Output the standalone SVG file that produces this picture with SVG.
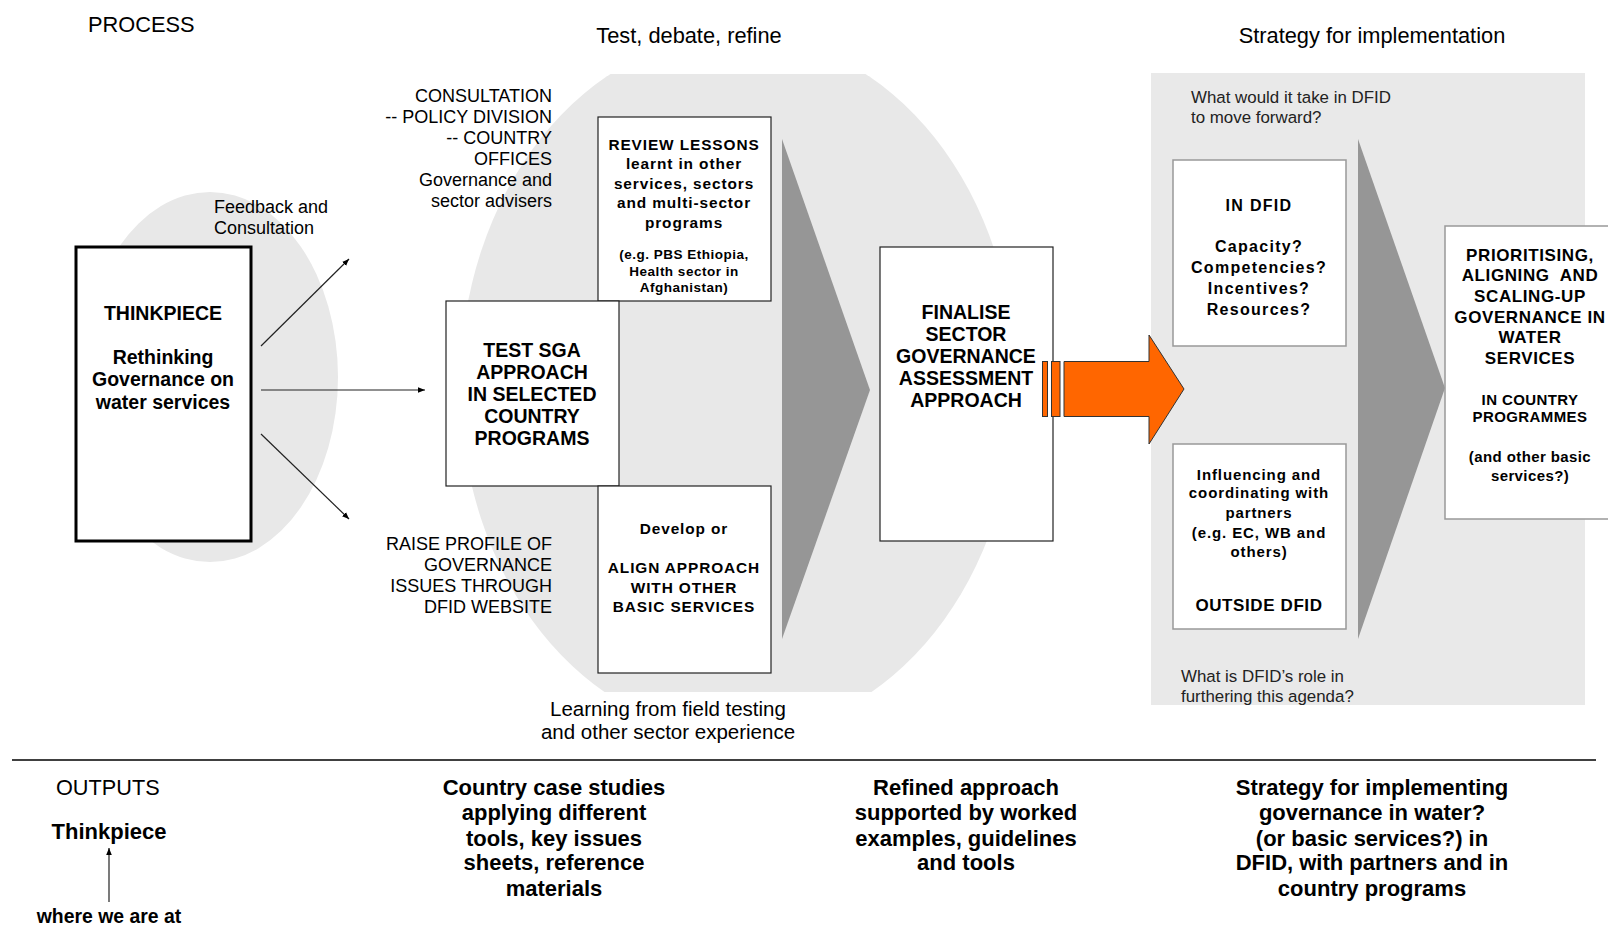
<svg xmlns="http://www.w3.org/2000/svg" width="1608" height="931" viewBox="0 0 1608 931">
<defs>
<style>
text{font-family:"Liberation Sans",Arial,sans-serif;fill:#000;dominant-baseline:central}
.hdr{font-size:21.8px}
.lbl{font-size:18px;text-anchor:end}
.lbs{font-size:18px}
.q{font-size:16.9px;fill:#222}
.bx{fill:#fff;stroke:#222;stroke-width:1.2}
.bxg{fill:#fff;stroke:#999;stroke-width:1.5}
.b19{font-size:19.5px;font-weight:bold;text-anchor:middle}
.b15{font-size:15.4px;font-weight:bold;text-anchor:middle;letter-spacing:0.9px}
.b13{font-size:13.5px;font-weight:bold;text-anchor:middle;letter-spacing:0.5px}
.b16{font-size:16px;font-weight:bold;text-anchor:middle;letter-spacing:1.3px}
.b15r{font-size:15px;font-weight:bold;text-anchor:middle;letter-spacing:0.9px}
.b17{font-size:17px;font-weight:bold;text-anchor:middle;letter-spacing:0.6px}
.b15p{font-size:15px;font-weight:bold;text-anchor:middle;letter-spacing:0.4px}
.out{font-size:22px;font-weight:bold;text-anchor:middle}
.small{font-size:19.4px}
.chev{fill:#969696}
.conn{stroke:#222;stroke-width:1.2;fill:none}
</style>
<marker id="ah" viewBox="0 0 10 10" refX="10" refY="5" markerWidth="7" markerHeight="7" orient="auto" markerUnits="userSpaceOnUse">
<path d="M0,1 L10,5 L0,9 z" fill="#000"/>
</marker>
<clipPath id="midclip"><rect x="0" y="74" width="1608" height="618"/></clipPath>
</defs>
<rect width="1608" height="931" fill="#fff"/>

<!-- backgrounds -->
<g id="backgrounds">
<ellipse cx="210" cy="377" rx="128" ry="185" fill="#e8e8e8"/>
<ellipse cx="738" cy="385" rx="278" ry="350" fill="#e8e8e8" clip-path="url(#midclip)"/>
<rect x="1151" y="73" width="434" height="632" fill="#e9e9e9"/>
</g>

<!-- headings -->
<text class="hdr" x="88" y="24">PROCESS</text>
<text class="hdr" x="689" y="35" text-anchor="middle">Test, debate, refine</text>
<text class="hdr" x="1372" y="35" text-anchor="middle">Strategy for implementation</text>

<!-- chevrons -->
<g id="chevrons">
<polygon class="chev" points="782,139 870,390 782,639"/>
<polygon class="chev" points="1358,139 1445,388 1358,639"/>
</g>

<!-- Thinkpiece -->
<g id="thinkpiece">
<rect x="76" y="247" width="175" height="294" fill="#fff" stroke="#000" stroke-width="3"/>
<text class="b19" x="163" y="313">THINKPIECE</text>
<text class="b19" x="163" y="357">Rethinking</text>
<text class="b19" x="163" y="379">Governance on</text>
<text class="b19" x="163" y="402">water services</text>
</g>

<g id="feedback-label">
<text class="lbs" x="214" y="207">Feedback and</text>
<text class="lbs" x="214" y="228">Consultation</text>
</g>

<g id="consultation-label">
<text class="lbl" x="552" y="96">CONSULTATION</text>
<text class="lbl" x="552" y="117">-- POLICY DIVISION</text>
<text class="lbl" x="552" y="138">-- COUNTRY</text>
<text class="lbl" x="552" y="159">OFFICES</text>
<text class="lbl" x="552" y="180">Governance and</text>
<text class="lbl" x="552" y="201">sector advisers</text>
</g>

<g id="raise-label">
<text class="lbl" x="552" y="544">RAISE PROFILE OF</text>
<text class="lbl" x="552" y="565">GOVERNANCE</text>
<text class="lbl" x="552" y="586">ISSUES THROUGH</text>
<text class="lbl" x="552" y="607">DFID WEBSITE</text>
</g>

<!-- Middle boxes -->
<g id="review">
<rect class="bx" x="598" y="117" width="173" height="184"/>
<text class="b15" x="684" y="144">REVIEW LESSONS</text>
<text class="b15" x="684" y="163">learnt in other</text>
<text class="b15" x="684" y="183">services, sectors</text>
<text class="b15" x="684" y="202">and multi-sector</text>
<text class="b15" x="684" y="222">programs</text>
<text class="b13" x="684" y="254">(e.g. PBS Ethiopia,</text>
<text class="b13" x="684" y="271">Health sector in</text>
<text class="b13" x="684" y="287">Afghanistan)</text>
</g>

<g id="test-sga">
<rect class="bx" x="446" y="301" width="173" height="185"/>
<text class="b19" x="532" y="350">TEST SGA</text>
<text class="b19" x="532" y="372">APPROACH</text>
<text class="b19" x="532" y="394">IN SELECTED</text>
<text class="b19" x="532" y="416">COUNTRY</text>
<text class="b19" x="532" y="438">PROGRAMS</text>
</g>

<g id="develop">
<rect class="bx" x="598" y="486" width="173" height="187"/>
<text class="b15" x="684" y="528">Develop or</text>
<text class="b15" x="684" y="567">ALIGN APPROACH</text>
<text class="b15" x="684" y="587">WITH OTHER</text>
<text class="b15" x="684" y="606">BASIC SERVICES</text>
</g>

<g id="finalise">
<rect class="bx" x="880" y="247" width="173" height="294"/>
<text class="b19" x="966" y="312">FINALISE</text>
<text class="b19" x="966" y="334">SECTOR</text>
<text class="b19" x="966" y="356">GOVERNANCE</text>
<text class="b19" x="966" y="378">ASSESSMENT</text>
<text class="b19" x="966" y="400">APPROACH</text>
</g>

<text x="668" y="708" font-size="20.5" text-anchor="middle">Learning from field testing</text>
<text x="668" y="731" font-size="20.5" text-anchor="middle">and other sector experience</text>

<!-- Orange arrow -->
<g id="orange-arrow" fill="#ff6600" stroke="#333" stroke-width="1">
<rect x="1042.5" y="361.5" width="5" height="55"/>
<rect x="1051.5" y="361.5" width="8.5" height="55"/>
<polygon points="1064,361.5 1149,361.5 1149,335 1184,389 1149,444 1149,416.5 1064,416.5"/>
</g>

<!-- Right panel -->
<text class="q" x="1191" y="97">What would it take in DFID</text>
<text class="q" x="1191" y="117">to move forward?</text>

<g id="in-dfid">
<rect class="bxg" x="1173" y="160" width="173" height="186"/>
<text class="b16" x="1259" y="205">IN DFID</text>
<text class="b16" x="1259" y="246">Capacity?</text>
<text class="b16" x="1259" y="267">Competencies?</text>
<text class="b16" x="1259" y="288">Incentives?</text>
<text class="b16" x="1259" y="309">Resources?</text>
</g>

<g id="outside-dfid">
<rect class="bxg" x="1173" y="444" width="173" height="185"/>
<text class="b15r" x="1259" y="474">Influencing and</text>
<text class="b15r" x="1259" y="492">coordinating with</text>
<text class="b15r" x="1259" y="512">partners</text>
<text class="b15r" x="1259" y="532">(e.g. EC, WB and</text>
<text class="b15r" x="1259" y="551">others)</text>
<text class="b17" x="1259" y="605">OUTSIDE DFID</text>
</g>

<g id="prioritising">
<rect class="bxg" x="1445" y="226" width="175" height="293"/>
<text class="b17" x="1530" y="255">PRIORITISING,</text>
<text class="b17" x="1530" y="275" xml:space="preserve">ALIGNING  AND</text>
<text class="b17" x="1530" y="296">SCALING-UP</text>
<text class="b17" x="1530" y="317">GOVERNANCE IN</text>
<text class="b17" x="1530" y="337">WATER</text>
<text class="b17" x="1530" y="358">SERVICES</text>
<text class="b15p" x="1530" y="399">IN COUNTRY</text>
<text class="b15p" x="1530" y="416">PROGRAMMES</text>
<text class="b15p" x="1530" y="456">(and other basic</text>
<text class="b15p" x="1530" y="475">services?)</text>
</g>

<text class="q" x="1181" y="676">What is DFID’s role in</text>
<text class="q" x="1181" y="696">furthering this agenda?</text>

<!-- connectors -->
<g id="connectors">
<line class="conn" x1="261" y1="346" x2="349" y2="259" marker-end="url(#ah)"/>
<line class="conn" x1="261" y1="390" x2="425" y2="390" marker-end="url(#ah)"/>
<line class="conn" x1="261" y1="434" x2="349" y2="519" marker-end="url(#ah)"/>
<line class="conn" x1="109" y1="902" x2="109" y2="848" marker-end="url(#ah)"/>
</g>

<line x1="12" y1="760" x2="1596" y2="760" stroke="#000" stroke-width="1.5"/>

<!-- Outputs -->
<text x="56" y="787" font-size="21.7">OUTPUTS</text>
<text class="out" x="109" y="831">Thinkpiece</text>
<text class="out small" x="109" y="916">where we are at</text>

<g id="out-country">
<text class="out" x="554" y="787">Country case studies</text>
<text class="out" x="554" y="812">applying different</text>
<text class="out" x="554" y="838">tools, key issues</text>
<text class="out" x="554" y="862">sheets, reference</text>
<text class="out" x="554" y="888">materials</text>
</g>
<g id="out-refined">
<text class="out" x="966" y="787">Refined approach</text>
<text class="out" x="966" y="812">supported by worked</text>
<text class="out" x="966" y="838">examples, guidelines</text>
<text class="out" x="966" y="862">and tools</text>
</g>
<g id="out-strategy">
<text class="out" x="1372" y="787">Strategy for implementing</text>
<text class="out" x="1372" y="812">governance in water?</text>
<text class="out" x="1372" y="838">(or basic services?) in</text>
<text class="out" x="1372" y="862">DFID, with partners and in</text>
<text class="out" x="1372" y="888">country programs</text>
</g>
</svg>
